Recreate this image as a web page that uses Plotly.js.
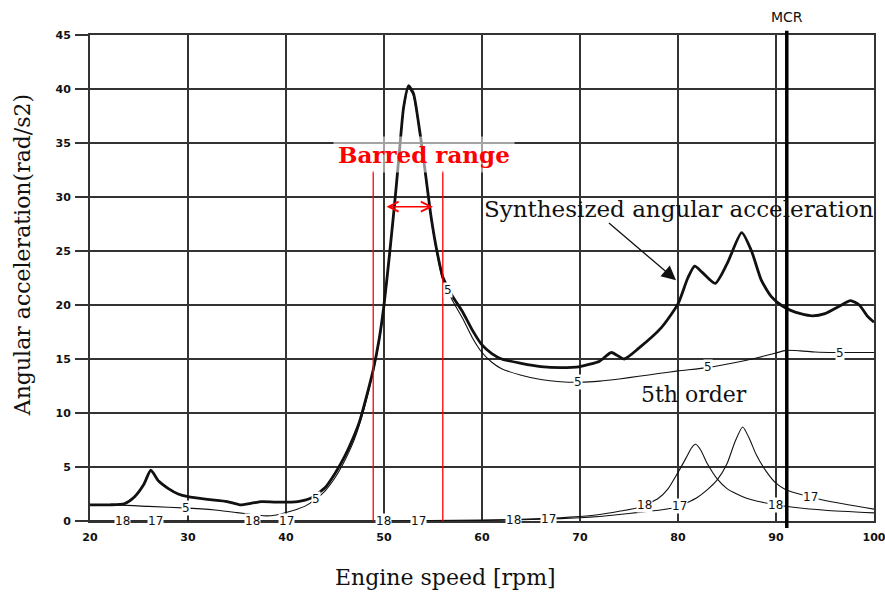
<!DOCTYPE html>
<html>
<head>
<meta charset="utf-8">
<script src="https://cdn.plot.ly/plotly-3.0.1.min.js"></script>
<style>html,body{margin:0;padding:0;background:#fff;}#chart{width:885px;height:594px;}</style>
</head>
<body>
<div id="chart"></div>
<script>
// Engine speed [rpm] and angular acceleration values
const synthX = [20,22,23.5,24.5,25.5,26.2,27,28,29,30,32,34,35.3,36.5,37.5,39,41.2,42.5,44,45,46,47,47.5,48,48.9,49.5,50,50.6,51.2,51.6,52.0,52.5,53.0,53.5,54,54.8,55.4,56,57,58,59,60,61,62,64,66,68,70,72,73.2,74.5,76,78.3,80,81,81.7,82.5,83.8,85,86.5,87.5,88.5,89.5,90.5,91.5,92.5,93.7,95,96.5,97.6,98.5,99.3,100];
const synthY = [1.5,1.5,1.6,2.2,3.4,4.7,3.7,3.0,2.5,2.25,2.0,1.8,1.5,1.65,1.8,1.75,1.8,2.1,3.1,4.4,6.0,8.0,9.2,10.8,14.0,16.8,20.0,25.0,30.5,34.5,38.3,40.3,39.6,37.0,33.8,28.2,25.0,22.6,20.8,19.4,17.7,16.3,15.5,15.0,14.6,14.3,14.2,14.3,14.8,15.6,15.0,16.0,17.9,20.1,22.5,23.6,23.0,22.0,23.8,26.7,25.0,22.3,20.8,20.0,19.5,19.2,19.0,19.2,19.9,20.4,20.0,19.0,18.4];

const order5X = [20,23,26,30,33,35,37,38,39,40,41,42,43,44,45,46,47,48,48.9,49.5,50,50.6,51.2,51.6,52.0,52.5,53.0,53.5,54,54.8,55.4,56,57,58,59,60,61,62,64,66,68,70,72,74,76,78,80,83,86,88,90,91,92.5,94,96,100];
const order5Y = [1.5,1.47,1.35,1.19,1.0,0.78,0.55,0.47,0.55,0.78,1.05,1.4,2.0,2.8,4.0,5.6,7.6,10.5,13.8,16.6,19.8,24.8,30.3,34.3,38.1,40.1,39.4,36.8,33.6,28.0,24.8,22.3,20.4,18.8,17.0,15.6,14.7,14.1,13.5,13.1,12.9,12.85,12.95,13.15,13.4,13.65,13.9,14.2,14.7,15.1,15.55,15.8,15.75,15.65,15.6,15.6];

const order18X = [20,50,60,64,68,70,72,74,76,78,79,80,80.8,81.4,81.8,82.3,83,84,85,86,87,88,90,92,95,100];
const order18Y = [0.02,0.02,0.08,0.15,0.3,0.42,0.6,0.9,1.25,2.1,3.0,4.5,5.8,6.8,7.1,6.6,5.3,3.9,3.0,2.5,2.1,1.85,1.5,1.25,1.0,0.75];

const order17X = [20,50,60,64,68,70,72,74,76,78,80,82,83,84,85,85.8,86.6,87.3,88,89,90,91,92,95,100];
const order17Y = [0.0,0.0,0.05,0.12,0.22,0.3,0.42,0.6,0.8,1.0,1.3,2.2,2.9,3.8,5.3,7.3,8.7,7.6,6.1,4.6,3.5,2.9,2.6,1.9,1.1];

// order label positions (engine speed) along the curves
const label5X = [29.8,43.1,56.5,69.8,83.1,96.5];
const label18X = [23.3,36.6,49.9,63.2,76.6,89.9];
const label17X = [26.7,40.1,53.5,66.8,80.2,93.5];

const barredRange = [48.9, 56.0];
const mcrSpeed = 91.1;
const xTicks = [20,30,40,50,60,70,80,90,100];
const yTicks = [0,5,10,15,20,25,30,35,40,45];

function interp(xs, ys, x) {
  for (let i = 0; i < xs.length - 1; i++) {
    if (x >= xs[i] && x <= xs[i+1]) {
      const t = (x - xs[i]) / (xs[i+1] - xs[i]);
      return ys[i] + t * (ys[i+1] - ys[i]);
    }
  }
  return ys[ys.length - 1];
}

const thin = {color: '#111', width: 1.1, shape: 'spline', smoothing: 0.6};
const traces = [
  {x: order18X, y: order18Y, mode: 'lines', line: thin, hoverinfo: 'skip'},
  {x: order17X, y: order17Y, mode: 'lines', line: thin, hoverinfo: 'skip'},
  {x: order5X, y: order5Y, mode: 'lines', line: thin, hoverinfo: 'skip'},
  {x: synthX, y: synthY, mode: 'lines', line: {color: '#111', width: 2.8, shape: 'spline', smoothing: 0.6}, hoverinfo: 'skip'}
];

const lblFont = {family: 'DejaVu Sans', size: 12, color: '#111'};
function orderLabels(xs, dataX, dataY, txt) {
  return xs.map(x => ({x: x, y: interp(dataX, dataY, x), xref: 'x', yref: 'y', text: txt, showarrow: false,
    font: lblFont, bgcolor: '#fff', borderpad: 0}));
}

const serif = 'DejaVu Serif';
const annotations = [].concat(
  orderLabels(label5X, order5X, order5Y, '5'),
  orderLabels(label18X, order18X, order18Y, '18'),
  orderLabels(label17X, order17X, order17Y, '17'),
  [
    {x: 54.1, y: 33.9, xref: 'x', yref: 'y', text: 'Barred range', showarrow: false,
     font: {family: serif, size: 23, color: '#ff0000', weight: 700}, bgcolor: 'rgba(255,255,255,0.55)', borderpad: 4},
    {x: 55.0, y: 29.1, ax: 50.1, ay: 29.1, xref: 'x', yref: 'y', axref: 'x', ayref: 'y', text: '',
     showarrow: true, arrowside: 'end+start', arrowhead: 5, startarrowhead: 5, arrowsize: 1.4, startarrowsize: 1.4,
     arrowwidth: 1.4, arrowcolor: '#ff0000'},
    {x: 80.1, y: 28.85, xref: 'x', yref: 'y', text: 'Synthesized angular acceleration', showarrow: false,
     font: {family: serif, size: 23, color: '#111'}},
    {x: 79.8, y: 22.3, ax: 72.8, ay: 27.7, xref: 'x', yref: 'y', axref: 'x', ayref: 'y', text: '',
     showarrow: true, arrowhead: 2, arrowsize: 2.2, arrowwidth: 1.3, arrowcolor: '#111'},
    {x: 81.6, y: 11.7, xref: 'x', yref: 'y', text: '5th order', showarrow: false,
     font: {family: serif, size: 22, color: '#111'}},
    {x: mcrSpeed, y: 1.037, xref: 'x', yref: 'paper', yanchor: 'middle', xanchor: 'center', text: 'MCR', showarrow: false,
     font: {family: 'DejaVu Sans', size: 14, color: '#111'}},
    // axis titles (placed as in the reference, off-centre)
    {x: 0.453, y: -0.117, xref: 'paper', yref: 'paper', xanchor: 'center', yanchor: 'middle',
     text: 'Engine speed [rpm]', showarrow: false, font: {family: serif, size: 22, color: '#111'}},
    {x: -0.0867, y: 0.547, xref: 'paper', yref: 'paper', xanchor: 'center', yanchor: 'middle', textangle: -90,
     text: 'Angular acceleration(rad/s2)', showarrow: false, font: {family: serif, size: 22, color: '#111'}}
  ]
);

const shapes = [
  {type: 'line', xref: 'x', yref: 'paper', x0: mcrSpeed, x1: mcrSpeed, y0: -0.0144, y1: 1.009,
   line: {color: '#000', width: 3.5}},
  {type: 'line', xref: 'x', yref: 'y', x0: barredRange[0], x1: barredRange[0], y0: 0, y1: 32.4,
   line: {color: '#ff0000', width: 1.3}},
  {type: 'line', xref: 'x', yref: 'y', x0: barredRange[1], x1: barredRange[1], y0: 0, y1: 32.4,
   line: {color: '#ff0000', width: 1.3}}
];

const gridC = '#333';
const tickFont = {family: 'DejaVu Sans', size: 11, color: '#111', weight: 700};
const layout = {
  width: 885, height: 594,
  margin: {l: 90, r: 11, t: 35, b: 73},
  paper_bgcolor: '#fff', plot_bgcolor: '#fff',
  showlegend: false,
  xaxis: {
    range: [20, 100], tickvals: xTicks, ticktext: xTicks.map(String), ticks: '', ticklabelstandoff: 5,
    ticklabeloverflow: 'allow',
    showgrid: true, gridcolor: gridC, gridwidth: 2, zeroline: false,
    showline: true, mirror: true, linecolor: gridC, linewidth: 2,
    tickfont: tickFont
  },
  yaxis: {
    range: [0, 45], tickvals: yTicks, ticktext: yTicks.map(String), ticks: 'outside', ticklen: 13,
    tickcolor: gridC, tickwidth: 2, ticklabelstandoff: 2,
    showgrid: true, gridcolor: gridC, gridwidth: 2, zeroline: false,
    showline: true, mirror: true, linecolor: gridC, linewidth: 2,
    tickfont: tickFont
  },
  annotations: annotations,
  shapes: shapes
};

Plotly.newPlot('chart', traces, layout, {displayModeBar: false, staticPlot: true});
</script>
</body>
</html>
